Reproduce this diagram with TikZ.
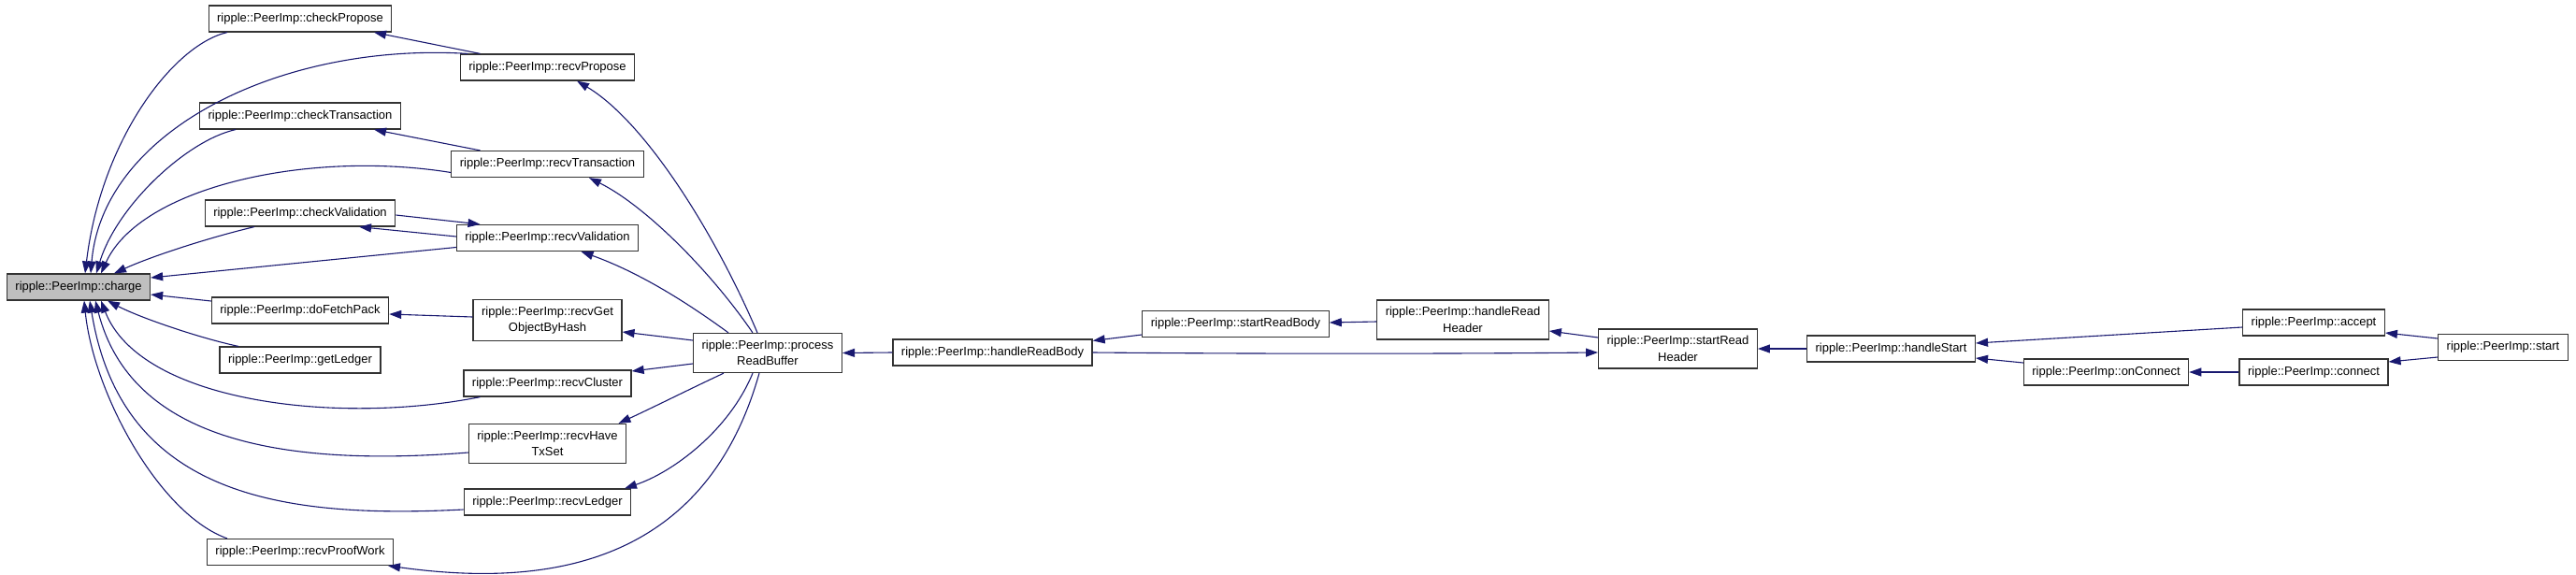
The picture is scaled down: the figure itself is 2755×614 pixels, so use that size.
\documentclass[tikz,border=0pt]{standalone}
\usepackage{fontspec}
\setmainfont{Liberation Sans}
\definecolor{edgeblue}{RGB}{25,25,112}
\definecolor{rootgray}{RGB}{191,191,191}
\usepackage{tikz}
\usetikzlibrary{arrows.meta}

\begin{document}
\begin{tikzpicture}[x=1pt, y=-1pt,
  fn/.style={draw=black!80, line width=1.2pt, fill=white, inner xsep=9pt, inner ysep=7.5pt,
    minimum height=28pt, align=center, font=\fontsize{13}{17.5}\selectfont},
  fnroot/.style={fn, fill=rootgray},
  call/.style={edgeblue, line width=1.1pt, -{Triangle[length=13pt,width=9pt]}}]
\useasboundingbox (0,0) rectangle (2755,614);

% functions, column by column
\node[fnroot] (charge) at (84,307) {ripple::PeerImp::charge};
\node[fn] (checkPropose) at (321,20) {ripple::PeerImp::checkPropose};
\node[fn] (checkTransaction) at (321,124) {ripple::PeerImp::checkTransaction};
\node[fn] (checkValidation) at (321,228) {ripple::PeerImp::checkValidation};
\node[fn] (doFetchPack) at (321,332) {ripple::PeerImp::doFetchPack};
\node[fn] (getLedger) at (321,385) {ripple::PeerImp::getLedger};
\node[fn] (recvProofWork) at (321,590.5) {ripple::PeerImp::recvProofWork};
\node[fn] (recvPropose) at (585.5,72) {ripple::PeerImp::recvPropose};
\node[fn] (recvTransaction) at (585.5,175.5) {ripple::PeerImp::recvTransaction};
\node[fn] (recvValidation) at (585.5,254.5) {ripple::PeerImp::recvValidation};
\node[fn] (recvGetObject) at (585.5,342.5) {ripple::PeerImp::recvGet\\ObjectByHash};
\node[fn] (recvCluster) at (585.5,410) {ripple::PeerImp::recvCluster};
\node[fn] (recvHaveTxSet) at (585.5,474.5) {ripple::PeerImp::recvHave\\TxSet};
\node[fn] (recvLedger) at (585.5,537) {ripple::PeerImp::recvLedger};
\node[fn] (processRead) at (821,377.5) {ripple::PeerImp::process\\ReadBuffer};
\node[fn] (handleReadBody) at (1061.5,377) {ripple::PeerImp::handleReadBody};
\node[fn] (startReadBody) at (1321.5,346.5) {ripple::PeerImp::startReadBody};
\node[fn] (handleReadHeader) at (1564.5,342) {ripple::PeerImp::handleRead\\Header};
\node[fn] (startReadHeader) at (1794.5,373) {ripple::PeerImp::startRead\\Header};
\node[fn] (handleStart) at (2022.5,373) {ripple::PeerImp::handleStart};
\node[fn] (accept) at (2474.5,345) {ripple::PeerImp::accept};
\node[fn] (onConnect) at (2252.5,398) {ripple::PeerImp::onConnect};
\node[fn] (connect) at (2474.5,398) {ripple::PeerImp::connect};
\node[fn] (start) at (2677,371.5) {ripple::PeerImp::start};

% calls into charge
\draw[call] ([xshift=-78pt]checkPropose.south) .. controls (185,48) and (108,150) .. ([xshift=7pt]charge.north);
\draw[call] ([xshift=-85pt]recvPropose.north) .. controls (300,45) and (110,140) .. ([xshift=13pt]charge.north);
\draw[call] ([xshift=-69pt]checkTransaction.south) .. controls (200,150) and (125,220) .. ([xshift=19pt]charge.north);
\draw[call] ([yshift=-9pt]recvTransaction.west) .. controls (330,160) and (150,200) .. ([xshift=24pt]charge.north);
\draw[call] ([xshift=-49pt]checkValidation.south) .. controls (220,255) and (160,275) .. ([xshift=38pt]charge.north);
\draw[call] ([yshift=-10pt]recvValidation.west) -- ([yshift=10pt]charge.east);
\draw[call] ([yshift=10pt]doFetchPack.west) -- ([yshift=-8pt]charge.east);
\draw[call] ([xshift=-66pt]getLedger.north) .. controls (215,362) and (150,340) .. ([xshift=31pt]charge.south);
\draw[call] ([xshift=-72pt]recvCluster.south) .. controls (360,455) and (150,430) .. ([xshift=24pt]charge.south);
\draw[call] ([yshift=-9.5pt]recvHaveTxSet.west) .. controls (300,500) and (140,470) .. ([xshift=18pt]charge.south);
\draw[call] ([yshift=-8pt]recvLedger.west) .. controls (300,555) and (130,530) .. ([xshift=12pt]charge.south);
\draw[call] ([xshift=-78pt]recvProofWork.north) .. controls (170,550) and (100,420) .. ([xshift=6pt]charge.south);

% recv to check
\draw[call] ([xshift=-72pt]recvPropose.north) -- ([xshift=79pt]checkPropose.south);
\draw[call] ([xshift=-72pt]recvTransaction.north) -- ([xshift=79pt]checkTransaction.south);
\draw[call] ([yshift=1.5pt]recvValidation.west) -- ([xshift=63pt]checkValidation.south);
\draw[call] ([yshift=-2pt]checkValidation.east) -- ([xshift=-72pt]recvValidation.north);
\draw[call] ([yshift=3.5pt]recvGetObject.west) -- ([yshift=-4pt]doFetchPack.east);

% calls from processReadBuffer
\draw[call] ([xshift=-11pt]processRead.north) .. controls (765,250) and (690,130) .. ([xshift=31.5pt]recvPropose.south);
\draw[call] ([xshift=-16pt]processRead.north) .. controls (760,290) and (690,220) .. ([xshift=44.5pt]recvTransaction.south);
\draw[call] ([xshift=-42pt]processRead.north) .. controls (730,320) and (680,290) .. ([xshift=36pt]recvValidation.south);
\draw[call] ([yshift=13.5pt]processRead.west) -- ([yshift=-12.5pt]recvGetObject.east);
\draw[call] ([yshift=-11.5pt]processRead.west) -- ([yshift=13pt]recvCluster.east);
\draw[call] ([xshift=-47pt]processRead.south) .. controls (740,415) and (700,435) .. ([xshift=76pt]recvHaveTxSet.north);
\draw[call] ([xshift=-16pt]processRead.south) .. controls (780,460) and (720,505) .. ([xshift=82.5pt]recvLedger.north);
\draw[call] ([xshift=-9pt]processRead.south) .. controls (750,620) and (560,625) .. ([xshift=94pt]recvProofWork.south);

% read chain
\draw[call] (handleReadBody.west) -- (processRead.east);
\draw[call] ([yshift=-11.5pt]startReadBody.west) -- ([yshift=-2pt]handleReadBody.north east);
\draw[call] ([yshift=-2pt]handleReadHeader.west) -- ([yshift=1.5pt]startReadBody.east);
\draw[call] ([yshift=12pt]startReadHeader.west) -- ([yshift=-12pt]handleReadHeader.east);
\draw[call] (handleReadBody.east) .. controls (1400,379) and (1600,378) .. ([yshift=-4pt]startReadHeader.west);
\draw[call] (handleStart.west) -- (startReadHeader.east);
\draw[call] ([yshift=-5pt]accept.west) -- ([yshift=6pt]handleStart.east);
\draw[call] ([yshift=10pt]onConnect.west) -- ([yshift=-10pt]handleStart.east);
\draw[call] (connect.west) -- (onConnect.east);
\draw[call] ([yshift=9.5pt]start.west) -- ([yshift=-11pt]accept.east);
\draw[call] ([yshift=-10.5pt]start.west) -- ([yshift=11pt]connect.east);
\end{tikzpicture}
\end{document}
